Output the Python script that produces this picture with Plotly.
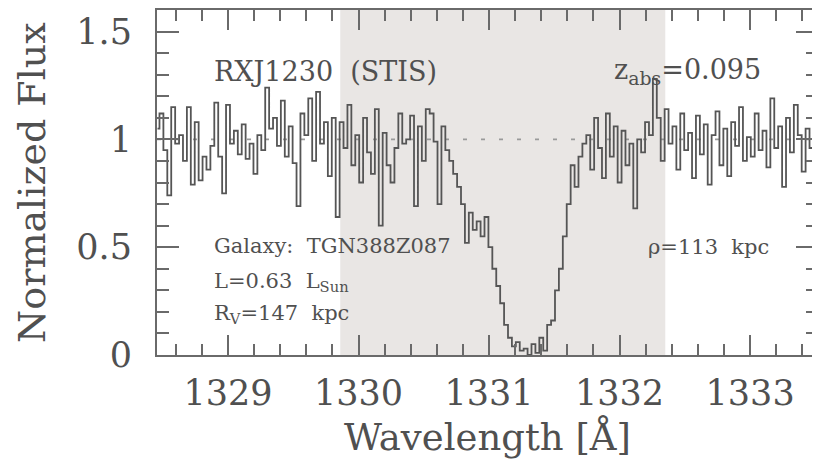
import numpy as np
import plotly.graph_objects as go

# ---- data ----
WAVE_START = 1328.46   # centre of first pixel [A]
PIX_WIDTH = 0.03       # pixel width [A]

flux_blue = [1.05, 1.12, 0.95, 0.74, 1.15, 0.98, 1.02, 0.90, 1.15, 0.79,
             1.08, 0.81, 0.92, 0.86, 0.97, 1.17, 0.92, 0.75, 1.16, 0.98,
             1.04, 0.93, 1.07, 0.91, 0.98, 0.84, 1.02, 0.95, 1.24, 1.05,
             1.10, 0.97, 1.18, 0.92, 1.06, 0.89, 0.69, 1.12, 1.02, 1.19,
             0.90, 1.22, 0.98, 1.08, 0.83, 1.10, 0.64,
             1.08, 0.96, 1.16, 0.88, 1.02, 0.80, 1.10, 0.94, 0.84, 1.14,
             0.60, 1.03, 0.88, 0.80, 0.96, 1.12, 0.98, 1.00, 1.11, 0.69,
             1.06, 0.90, 1.14, 1.12, 0.99, 0.70, 1.06, 0.95]
flux_line = [0.90, 0.84, 0.78, 0.70, 0.52, 0.66, 0.58, 0.62, 0.55, 0.64,
             0.50, 0.40, 0.32, 0.24, 0.14, 0.08, 0.04, 0.06, 0.02, 0.03,
             0.00, 0.05, 0.01, 0.08, 0.02, 0.14, 0.16, 0.30, 0.40, 0.55,
             0.70, 0.88, 0.78, 0.92, 0.98]
flux_red = [1.02, 0.86, 1.10, 0.96, 0.82, 1.12, 0.92, 1.06, 0.80, 1.04,
            0.88, 0.98, 0.68, 1.00, 0.94, 1.08, 1.02, 1.28, 1.10, 0.90,
            1.14, 0.98, 1.06, 0.86, 1.12, 0.95, 1.03, 0.82, 1.11, 0.93,
            1.07, 0.79, 1.02, 1.13, 0.88, 1.05, 0.83, 1.08, 0.97, 1.15,
            0.90, 1.01, 0.92, 1.12, 0.95, 1.04, 0.87, 1.19, 0.96, 1.06,
            0.78, 1.10, 0.94, 1.16, 1.02, 0.85, 1.05, 0.96, 1.00]

flux = flux_blue + flux_line + flux_red
wave = WAVE_START + PIX_WIDTH * np.arange(len(flux))

shade_range = [1329.86, 1332.35]
continuum = 1.0
x_range = [1328.456, 1333.52]
y_range = [0, 1.6]
y_ticks = [0, 0.5, 1, 1.5]
y_ticktext = ["0", "0.5", "1", "1.5"]

TXT = "#505050"
AX = "#6a6a6a"
FONT = "DejaVu Serif"

fig = go.Figure()
fig.add_shape(type="rect", xref="x", yref="y", x0=shade_range[0], x1=shade_range[1],
              y0=y_range[0], y1=y_range[1], fillcolor="#e9e6e4", line_width=0, layer="below")
fig.add_trace(go.Scatter(x=x_range, y=[continuum, continuum], mode="lines",
                         line=dict(color="#9a9a9a", width=1.6, dash="4px,14px"),
                         showlegend=False, hoverinfo="skip"))
fig.add_trace(go.Scatter(x=wave, y=flux, mode="lines", line_shape="hvh",
                         line=dict(color="#555555", width=1.8), showlegend=False))
# invisible trace to carry the mirrored (top/right) tick axes
fig.add_trace(go.Scatter(x=x_range, y=y_range, mode="markers", marker=dict(opacity=0),
                         xaxis="x2", yaxis="y2", showlegend=False, hoverinfo="skip"))

ann = [
    dict(x=1328.877, y=1.315, text="RXJ1230  (STIS)", size=27),
    dict(x=1331.94, y=1.315, text="z<sub>abs</sub>=0.095", size=27),
    dict(x=1328.877, y=0.505, text="Galaxy:  TGN388Z087", size=21),
    dict(x=1328.877, y=0.338, text="L=0.63  L<sub>Sun</sub>", size=21),
    dict(x=1328.877, y=0.19, text="R<sub>V</sub>=147  kpc", size=21),
    dict(x=1332.2, y=0.50, text="ρ=113  kpc", size=21),
]
for a in ann:
    fig.add_annotation(x=a["x"], y=a["y"], xref="x", yref="y", text=a["text"],
                       showarrow=False, xanchor="left", yanchor="middle",
                       font=dict(family=FONT, size=a["size"], color=TXT))

fig.add_annotation(x=0.5, y=-0.238, xref="paper", yref="paper", text="Wavelength [Å]",
                   showarrow=False, xanchor="center", yanchor="middle",
                   font=dict(family=FONT, size=37, color=TXT))
fig.add_annotation(x=-0.19, y=0.5, xref="paper", yref="paper", text="Normalized Flux",
                   showarrow=False, xanchor="center", yanchor="middle", textangle=-90,
                   font=dict(family=FONT, size=38, color=TXT))

axcommon = dict(showgrid=False, zeroline=False, showline=True, automargin=False,
                linecolor=AX, linewidth=2, ticks="inside", tickcolor=AX,
                tickwidth=1.5, tickfont=dict(family=FONT, size=35, color=TXT))
xminor = dict(dtick=0.2, tick0=1329, ticklen=11, ticks="inside", tickcolor=AX, tickwidth=1.5)
yminor = dict(dtick=0.1, tick0=0, ticklen=12, ticks="inside", tickcolor=AX, tickwidth=1.5)

# page body has an 8px default margin: size the figure so the plot area lands
# at x 157..818, y 10..355 in the 820x459 window
fig.update_layout(
    width=812, height=451, margin=dict(l=149, r=2, t=2, b=104),
    plot_bgcolor="white", paper_bgcolor="white",
    xaxis=dict(range=x_range, dtick=1, tick0=1329, ticklen=20, minor=xminor,
               ticklabelstandoff=6, mirror=True, **axcommon),
    yaxis=dict(range=y_range, tickvals=y_ticks, ticktext=y_ticktext, ticklen=22,
               minor=yminor, ticklabelstandoff=16, mirror=True, **axcommon),
    xaxis2=dict(range=x_range, dtick=1, tick0=1329, ticklen=20, minor=xminor,
                overlaying="x", side="top", showticklabels=False, anchor="y",
                showgrid=False, zeroline=False, showline=False, ticks="inside",
                tickcolor=AX, tickwidth=1.5, automargin=False),
    yaxis2=dict(range=y_range, tickvals=y_ticks, ticklen=22, minor=yminor,
                overlaying="y", side="right", showticklabels=False, anchor="x",
                showgrid=False, zeroline=False, showline=False, ticks="inside",
                tickcolor=AX, tickwidth=1.5, automargin=False),
)
fig.write_html("out.html")
